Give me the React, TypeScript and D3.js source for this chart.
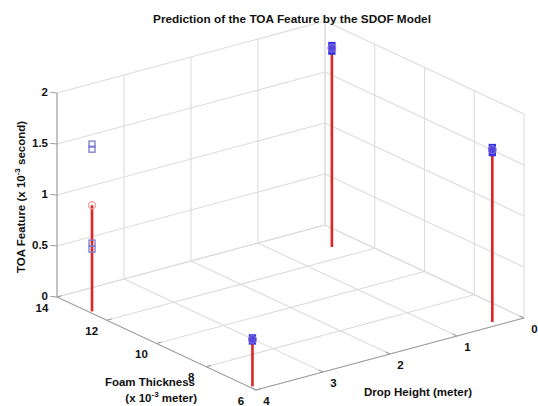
import React from "react";
import * as d3 from "d3";

// Stem positions (foam thickness in 1e-3 m, drop height in m) and TOA values (1e-3 s)
const foamThickness = [12.7, 6.25, 12.7, 6.25];
const dropHeight = [3.96, 3.96, 0.38, 0.38];
const predictedTOA = [1.04, 0.46, 1.95, 1.69];
const measuredTOA = [
  [1.64, 1.59, 0.67, 0.61],
  [0.475, 0.445],
  [1.975, 1.92],
  [1.71, 1.66],
];

const foamTicks = [6, 8, 10, 12, 14];
const dropTicks = [0, 1, 2, 3, 4];
const toaTicks = [0, 0.5, 1, 1.5, 2];

const W = 538;
const H = 406;

// Screen anchors of the box floor (orthographic 3D view)
const B = { x: 256, y: 390 }; // foam 6, drop 4
const L = { x: 57, y: 297 }; // foam 14, drop 4
const R = { x: 524, y: 318 }; // foam 6, drop 0

const fScale = d3.scaleLinear().domain([6, 14]).range([0, 1]);
const dScale = d3.scaleLinear().domain([4, 0]).range([0, 1]);
const zScale = d3.scaleLinear().domain([0, 2]).range([0, 204]);

function project(f: number, d: number, z: number): [number, number] {
  const a = fScale(f);
  const b = dScale(d);
  return [
    B.x + a * (L.x - B.x) + b * (R.x - B.x),
    B.y + a * (L.y - B.y) + b * (R.y - B.y) - zScale(z),
  ];
}

const line = d3.line<[number, number]>();

const GRID = "#dcdcdc";
const AXIS = "#9a9a9a";
const FONT = "'Liberation Sans', Arial, sans-serif";

export default function App() {
  const grid: string[] = [];
  // floor grid (z = 0)
  foamTicks.forEach((f) => grid.push(line([project(f, 4, 0), project(f, 0, 0)])!));
  dropTicks.forEach((d) => grid.push(line([project(6, d, 0), project(14, d, 0)])!));
  // back wall at foam = 14
  toaTicks.forEach((z) => grid.push(line([project(14, 4, z), project(14, 0, z)])!));
  dropTicks.forEach((d) => grid.push(line([project(14, d, 0), project(14, d, 2)])!));
  // back wall at drop = 0
  toaTicks.forEach((z) => grid.push(line([project(14, 0, z), project(6, 0, z)])!));
  foamTicks.forEach((f) => grid.push(line([project(f, 0, 0), project(f, 0, 2)])!));

  // tick directions
  const ux = (R.x - B.x) / Math.hypot(R.x - B.x, R.y - B.y);
  const uy = (R.y - B.y) / Math.hypot(R.x - B.x, R.y - B.y);
  const vx = (L.x - B.x) / Math.hypot(L.x - B.x, L.y - B.y);
  const vy = (L.y - B.y) / Math.hypot(L.x - B.x, L.y - B.y);
  const tk = 5;

  const tickStyle = { fontFamily: FONT, fontSize: 11.5, fontWeight: 700, fill: "#111" } as const;

  return (
    <svg
      width={W}
      height={H}
      viewBox={`0 0 ${W} ${H}`}
      style={{ position: "absolute", left: 0, top: 0, background: "#fff" }}
    >
      <rect width={W} height={H} fill="#fff" />
      <g fill="none" stroke={GRID} strokeWidth={1.1}>
        {grid.map((p, i) => (
          <path key={i} d={p} />
        ))}
      </g>

      {/* axes */}
      <g fill="none" stroke={AXIS} strokeWidth={1}>
        <path d={line([project(14, 4, 0), project(6, 4, 0)])!} />
        <path d={line([project(6, 4, 0), project(6, 0, 0)])!} />
        <path d={line([project(14, 4, 0), project(14, 4, 2)])!} />
        {toaTicks.map((z) => {
          const [x, y] = project(14, 4, z);
          return <path key={"zt" + z} d={line([[x, y], [x + vx * tk * 0.6 - 4, y + vy * tk * 0.3]])!} />;
        })}
        {foamTicks.map((f) => {
          const [x, y] = project(f, 4, 0);
          return <path key={"ft" + f} d={line([[x, y], [x + ux * tk, y + uy * tk]])!} />;
        })}
        {dropTicks.map((d) => {
          const [x, y] = project(6, d, 0);
          return <path key={"dt" + d} d={line([[x, y], [x + vx * tk, y + vy * tk]])!} />;
        })}
      </g>

      {/* tick labels */}
      <g {...tickStyle}>
        {toaTicks.map((z) => {
          const [x, y] = project(14, 4, z);
          return (
            <text key={"zl" + z} x={x - 9} y={y - 1} textAnchor="end" dominantBaseline="central">
              {z}
            </text>
          );
        })}
        {foamTicks.map((f) => {
          const [x, y] = project(f, 4, 0);
          return (
            <text key={"fl" + f} x={x - 15} y={y + 10.5} textAnchor="middle" dominantBaseline="central">
              {f}
            </text>
          );
        })}
        {dropTicks.map((d) => {
          const [x, y] = project(6, d, 0);
          return (
            <text key={"dl" + d} x={x + 10.5} y={y + 10.5} textAnchor="middle" dominantBaseline="central">
              {d}
            </text>
          );
        })}
      </g>

      {/* stems */}
      <g>
        {predictedTOA.map((v, i) => {
          const base = project(foamThickness[i], dropHeight[i], 0);
          const top = project(foamThickness[i], dropHeight[i], v);
          return (
            <path key={"s" + i} d={line([base, top])!} stroke="#e02424" strokeWidth={2.6} fill="none" />
          );
        })}
      </g>

      {/* measured values */}
      <g fill="none" stroke="#4a4ad8" strokeWidth={1.3}>
        {measuredTOA.map((vals, i) =>
          vals.map((v, j) => {
            const [x, y] = project(foamThickness[i], dropHeight[i], v);
            const filled = i > 0;
            return (
              <rect
                key={"m" + i + "-" + j}
                x={x - 3}
                y={y - 3}
                width={6}
                height={6}
                fill={filled ? "#3a3ae6" : "none"}
                stroke={filled ? "#3030e0" : "#7a7ad0"}
              />
            );
          })
        )}
      </g>

      {/* predicted values */}
      <g>
        {predictedTOA.map((v, i) => {
          const [x, y] = project(foamThickness[i], dropHeight[i], v);
          return i === 0 ? (
            <circle key={"p" + i} cx={x} cy={y} r={3.6} fill="none" stroke="#e8a394" strokeWidth={1.3} />
          ) : (
            <circle key={"p" + i} cx={x} cy={y} r={4} fill="#6a55d8" fillOpacity={0.55} stroke="#8a70d8" strokeWidth={1} />
          );
        })}
      </g>

      {/* title */}
      <text
        x={292}
        y={23}
        textAnchor="middle"
        style={{ fontFamily: FONT, fontSize: 11.8, fontWeight: 700, fill: "#111" }}
      >
        Prediction of the TOA Feature by the SDOF Model
      </text>

      {/* axis titles */}
      <g style={{ fontFamily: FONT, fontSize: 11.5, fontWeight: 700, fill: "#111" }}>
        <text x={195} y={386} textAnchor="end">
          Foam Thickness
        </text>
        <text x={197} y={402} textAnchor="end">
          (x 10<tspan dy={-5} fontSize={8}>-3</tspan>
          <tspan dy={5}> meter)</tspan>
        </text>
        <text x={418} y={396} textAnchor="middle">
          Drop Height (meter)
        </text>
        <text transform="translate(25,197) rotate(-90)" textAnchor="middle">
          TOA Feature (x 10<tspan dy={-5} fontSize={8}>-3</tspan>
          <tspan dy={5}> second)</tspan>
        </text>
      </g>
    </svg>
  );
}
